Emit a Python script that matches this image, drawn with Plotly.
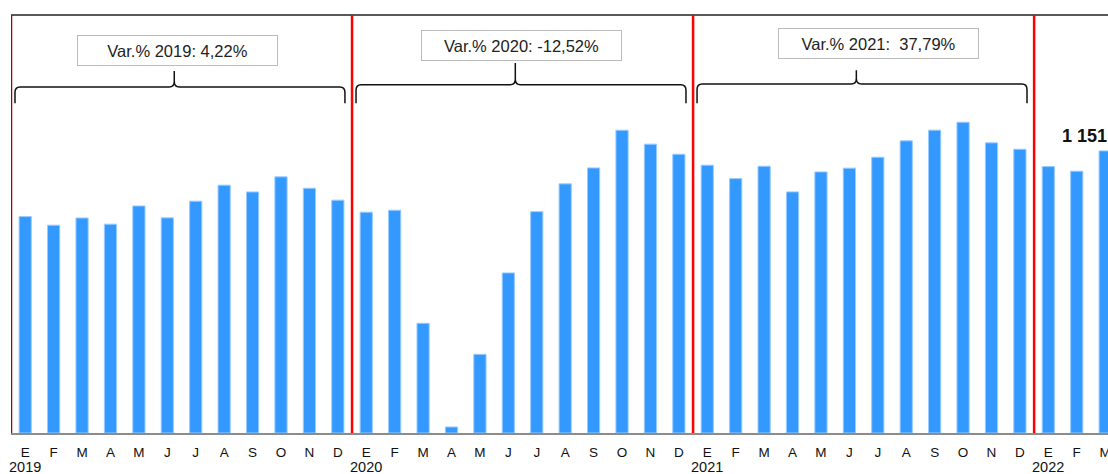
import plotly.graph_objects as go

# Monthly values, January 2019 – March 2022
months = ["E", "F", "M", "A", "M", "J", "J", "A", "S", "O", "N", "D"]
years = ["2019", "2020", "2021", "2022"]

values_2019 = [883200, 848100, 877600, 852300, 926700, 878100,
               946200, 1011500, 983800, 1045400, 999000, 950300]
values_2020 = [901300, 909100, 447800, 24600, 321200, 653400,
               903500, 1016800, 1081900, 1235700, 1178900, 1137800]
values_2021 = [1093100, 1038200, 1088800, 984100, 1065500, 1080900,
               1125600, 1192300, 1236100, 1268400, 1184200, 1158200]
values_2022 = [1087400, 1068600, 1151420]

yoy_labels = ["Var.% 2019: 4,22%", "Var.% 2020: -12,52%", "Var.% 2021:  37,79%"]

values = values_2019 + values_2020 + values_2021 + values_2022
idx = list(range(len(values)))
tick_text = (months * 4)[:len(values)]

FONT = "Liberation Sans, Arial, sans-serif"
Y_TOP = 1706000

fig = go.Figure()
fig.add_trace(go.Bar(
    x=idx, y=values,
    marker=dict(color="#3399FF", line=dict(color="#99CCFF", width=1)),
    hoverinfo="x+y",
))

fig.update_layout(
    width=1108, height=474,
    margin=dict(l=11, r=0, t=15, b=41, autoexpand=False),
    plot_bgcolor="white", paper_bgcolor="white",
    showlegend=False, bargap=0.57,
    font=dict(family=FONT, color="#111111"),
    xaxis=dict(
        range=[-0.5, 38.1], tickmode="array", tickvals=idx, ticktext=tick_text,
        tickfont=dict(size=13.5, family=FONT, color="#111111"),
        showgrid=False, zeroline=False, showline=True,
        linecolor="#8c8c8c", linewidth=2, ticks="", ticklabelstandoff=6,
        ticklabeloverflow="allow", automargin=False,
    ),
    yaxis=dict(range=[0, Y_TOP], visible=False, showgrid=False, zeroline=False,
               automargin=False),
)

shapes = []
# top frame line and left edge
shapes.append(dict(type="line", xref="paper", yref="paper", x0=0, x1=1, y0=1, y1=1,
                   line=dict(color="#222222", width=1.5)))
shapes.append(dict(type="line", xref="x", yref="paper", x0=-0.5, x1=-0.5, y0=0, y1=1,
                   line=dict(color="#A00000", width=2.5)))
# year separators
for k in range(1, 4):
    xb = 12 * k - 0.5
    shapes.append(dict(type="line", xref="x", yref="paper", x0=xb, x1=xb, y0=0, y1=1,
                       line=dict(color="#FF0000", width=2.5)))


def brace_path(xl, xr, xt, yh, ytip, yb, rx=0.18, ry=0.013):
    return (f"M {xl},{yb} L {xl},{yh - ry} Q {xl},{yh} {xl + rx},{yh} "
            f"L {xt - rx},{yh} Q {xt},{yh} {xt},{yh + ry} L {xt},{ytip} "
            f"M {xt},{yh + ry} Q {xt},{yh} {xt + rx},{yh} "
            f"L {xr - rx},{yh} Q {xr},{yh} {xr},{yh - ry} L {xr},{yb}")


# per-year brace/box placement: (horizontal y, tip y, box centre x, box centre y)
brace_layout = [(0.828, 0.866, 5.36, 0.916),
                (0.833, 0.885, 17.46, 0.926),
                (0.835, 0.868, 30.04, 0.932)]

annotations = []
for k, (label, (yh, ytip, bx, by)) in enumerate(zip(yoy_labels, brace_layout)):
    xl = 12 * k - 0.5 + 0.14
    xr = 12 * k + 11.5 - 0.25
    xt = (xl + xr) / 2 - 0.2
    shapes.append(dict(type="path", xref="x", yref="paper",
                       path=brace_path(xl, xr, xt, yh, ytip, 0.789),
                       line=dict(color="#111111", width=1.5)))
    annotations.append(dict(
        x=bx, y=by, xref="x", yref="paper", showarrow=False,
        text=label.replace("  ", "\u00a0\u00a0"),
        font=dict(size=16.5, family=FONT, color="#222222"),
        bgcolor="white", bordercolor="#BBBBBB", borderwidth=1, borderpad=0,
        width=199, height=29, xanchor="center", yanchor="middle",
    ))

# year labels under each January
for k, yr in enumerate(years):
    annotations.append(dict(
        x=12 * k, y=0, xref="x", yref="paper", yanchor="top", showarrow=False,
        text=yr, yshift=-24, font=dict(size=14.5, family=FONT, color="#111111"),
    ))

# value label on the latest month
last_i = len(values) - 1
last_v = values[last_i]
annotations.append(dict(
    x=last_i, y=last_v, xref="x", yref="y", yanchor="bottom", showarrow=False,
    text="<b>" + f"{last_v:,}".replace(",", " ") + "</b>", yshift=3, xshift=-3,
    font=dict(size=18, family=FONT, color="#111111"),
))

fig.update_layout(shapes=shapes, annotations=annotations)
fig.write_html("out.html")
